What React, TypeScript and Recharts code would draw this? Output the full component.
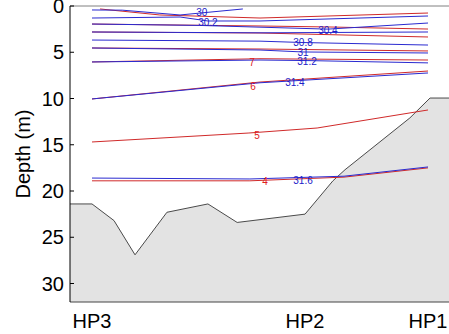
import React from 'react';
import { ComposedChart, XAxis, YAxis, Line, Area, Scatter, ReferenceLine } from 'recharts';

type Pt = { x: number; d: number };
type Lbl = { x: number; d: number; text: string };

// Stations along the transect (distance in km from HP3)
const stationNames = ['HP3', 'HP2', 'HP1'];
const stationKm = [0, 6.34, 10];
const depthTicks = [0, 5, 10, 15, 20, 25, 30];

// Bottom profile (depth in m)
const seabed: Pt[] = [
  { x: -0.655, d: 21.4 },
  { x: 0, d: 21.4 },
  { x: 0.655, d: 23.2 },
  { x: 1.28, d: 26.9 },
  { x: 2.23, d: 22.3 },
  { x: 3.45, d: 21.4 },
  { x: 4.32, d: 23.4 },
  { x: 6.34, d: 22.5 },
  { x: 7.17, d: 18.9 },
  { x: 7.53, d: 17.7 },
  { x: 9.46, d: 12.1 },
  { x: 10.06, d: 9.95 },
  { x: 10.72, d: 9.95 },
];

// Temperature isolines (°C)
const temp11: Pt[] = [{ x: 0.24, d: 0.32 }, { x: 2.02, d: 0.97 }, { x: 5, d: 1.3 }, { x: 10, d: 0.76 }];
const temp10: Pt[] = [{ x: 0, d: 1.95 }, { x: 5, d: 2.16 }, { x: 7.08, d: 2.27 }, { x: 10, d: 2.49 }];
const temp9: Pt[] = [{ x: 0, d: 2.81 }, { x: 5, d: 2.92 }, { x: 10, d: 3.35 }];
const temp8: Pt[] = [{ x: 0, d: 4.54 }, { x: 5, d: 4.65 }, { x: 10, d: 4.86 }];
const temp7: Pt[] = [{ x: 0, d: 6.05 }, { x: 5, d: 5.7 }, { x: 10, d: 5.84 }];
const temp6: Pt[] = [{ x: 0, d: 10.05 }, { x: 5, d: 8.22 }, { x: 10, d: 7.03 }];
const temp5: Pt[] = [{ x: 0, d: 14.7 }, { x: 4.67, d: 13.73 }, { x: 6.7, d: 13.19 }, { x: 10, d: 11.24 }];
const temp4: Pt[] = [{ x: 0, d: 18.9 }, { x: 4.7, d: 18.9 }, { x: 7.5, d: 18.5 }, { x: 10, d: 17.5 }];

// Salinity isolines (psu)
const salt300: Pt[] = [{ x: 0, d: 0.43 }, { x: 0.9, d: 0.45 }, { x: 2.62, d: 0.97 }, { x: 4.49, d: 0.32 }];
const salt302: Pt[] = [{ x: 0, d: 1.3 }, { x: 2.62, d: 1.19 }, { x: 3.45, d: 1.62 }, { x: 5, d: 1.62 }, { x: 10, d: 1.08 }];
const salt304: Pt[] = [{ x: 0, d: 1.95 }, { x: 3.2, d: 2.1 }, { x: 7.02, d: 2.5 }, { x: 10, d: 1.84 }];
const salt306: Pt[] = [{ x: 0, d: 2.81 }, { x: 5, d: 2.9 }, { x: 10, d: 2.81 }];
const salt308: Pt[] = [{ x: 0, d: 3.68 }, { x: 5, d: 3.8 }, { x: 6.28, d: 3.95 }, { x: 10, d: 4.22 }];
const salt310: Pt[] = [{ x: 0, d: 4.54 }, { x: 5, d: 4.76 }, { x: 6.28, d: 4.97 }, { x: 10, d: 5.08 }];
const salt312: Pt[] = [{ x: 0, d: 6.05 }, { x: 5, d: 5.84 }, { x: 6.4, d: 5.9 }, { x: 10, d: 6.15 }];
const salt314: Pt[] = [{ x: 0, d: 10.05 }, { x: 5, d: 8.3 }, { x: 10, d: 7.24 }];
const salt316: Pt[] = [{ x: 0, d: 18.6 }, { x: 4.7, d: 18.7 }, { x: 7.5, d: 18.4 }, { x: 10, d: 17.4 }];

const tempLabels: Lbl[] = [
  { x: 4.76, d: 6.05, text: '7' },
  { x: 4.79, d: 8.65, text: '6' },
  { x: 4.91, d: 14.0, text: '5' },
  { x: 5.15, d: 19.0, text: '4' },
];
const saltLabels: Lbl[] = [
  { x: 3.27, d: 0.68, text: '30' },
  { x: 3.45, d: 1.8, text: '30.2' },
  { x: 7.02, d: 2.6, text: '30.4' },
  { x: 6.28, d: 3.92, text: '30.8' },
  { x: 6.28, d: 4.97, text: '31' },
  { x: 6.4, d: 6.02, text: '31.2' },
  { x: 6.04, d: 8.3, text: '31.4' },
  { x: 6.28, d: 18.9, text: '31.6' },
];

const tempLines = [temp11, temp10, temp9, temp8, temp7, temp6, temp5, temp4];
const saltLines = [salt300, salt302, salt304, salt306, salt308, salt310, salt312, salt314, salt316];

const RED = '#d02a2a';
const BLUE = '#2a2ad0';
const FONT = '"Liberation Sans", Arial, Helvetica, sans-serif';

const PLOT_LEFT = 70;
const PLOT_RIGHT = 452;
const PLOT_TOP = 6;

const LeftTick = (props: any) => {
  const { y, payload } = props;
  return (
    <g>
      <line x1={PLOT_LEFT} x2={PLOT_LEFT + 4} y1={y} y2={y} stroke="#000" />
      <text x={PLOT_LEFT - 6} y={y} dy="0.36em" textAnchor="end" fontSize={20} fontFamily={FONT} fill="#000">
        {payload.value}
      </text>
    </g>
  );
};

const RightTick = (props: any) => {
  const { y } = props;
  return <line x1={PLOT_RIGHT - 5} x2={PLOT_RIGHT} y1={y} y2={y} stroke="#000" />;
};

const TopTick = (props: any) => {
  const { x } = props;
  return <line x1={x} x2={x} y1={PLOT_TOP} y2={PLOT_TOP + 4} stroke="#000" />;
};

const BottomTick = (props: any) => {
  const { x, y, payload } = props;
  const i = stationKm.indexOf(payload.value);
  return (
    <text x={x} y={y + 26} textAnchor="middle" fontSize={20} fontFamily={FONT} fill="#000">
      {stationNames[i]}
    </text>
  );
};

const makeLabelShape = (color: string) => (props: any) => {
  const { cx, cy, payload } = props;
  return (
    <text x={cx} y={cy} dy="0.36em" textAnchor="middle" fontSize={10} fontFamily={FONT} fill={color}>
      {payload.text}
    </text>
  );
};

export default function App() {
  return (
    <div style={{ position: 'fixed', left: 0, top: 0, width: 449, height: 334, overflow: 'hidden', background: '#fff' }}>
      <ComposedChart width={460} height={334} margin={{ top: 6, right: 8, bottom: 0, left: 0 }}>
        <XAxis
          dataKey="x"
          type="number"
          domain={[-0.655, 10.714]}
          ticks={stationKm}
          interval={0}
          allowDataOverflow
          height={32}
          tickSize={0}
          tickMargin={0}
          tick={<BottomTick />}
          axisLine={{ stroke: '#444' }}
          tickLine={false}
        />
        <XAxis
          xAxisId="top"
          dataKey="x"
          type="number"
          orientation="top"
          domain={[-0.655, 10.714]}
          ticks={stationKm}
          interval={0}
          allowDataOverflow
          height={0}
          tickSize={0}
          tickMargin={0}
          tick={<TopTick />}
          axisLine={{ stroke: '#777' }}
          tickLine={false}
        />
        <YAxis
          dataKey="d"
          type="number"
          domain={[0, 32]}
          reversed
          ticks={depthTicks}
          interval={0}
          allowDataOverflow
          width={70}
          tickSize={0}
          tickMargin={0}
          tick={<LeftTick />}
          axisLine={{ stroke: '#000' }}
          tickLine={false}
          label={{
            content: () => (
              <text
                x={23}
                y={154}
                transform="rotate(-90 23 154)"
                textAnchor="middle"
                dominantBaseline="central"
                fontSize={20}
                fontFamily={FONT}
                fill="#000"
              >
                Depth (m)
              </text>
            ),
          }}
        />
        <YAxis
          yAxisId="right"
          orientation="right"
          type="number"
          domain={[0, 32]}
          reversed
          ticks={depthTicks}
          interval={0}
          allowDataOverflow
          width={0}
          tickSize={0}
          tickMargin={0}
          tick={<RightTick />}
          axisLine={{ stroke: '#000' }}
          tickLine={false}
        />
        <ReferenceLine y={0} stroke="#808080" strokeWidth={1} />
        <Area
          data={seabed}
          dataKey="d"
          type="linear"
          baseValue={32}
          fill="#e3e3e3"
          fillOpacity={1}
          stroke="#4a4a4a"
          strokeWidth={1}
          isAnimationActive={false}
          dot={false}
          activeDot={false}
        />
        {tempLines.map((pts, i) => (
          <Line
            key={'t' + i}
            data={pts}
            dataKey="d"
            type="linear"
            stroke={RED}
            strokeWidth={1}
            dot={false}
            activeDot={false}
            isAnimationActive={false}
          />
        ))}
        {saltLines.map((pts, i) => (
          <Line
            key={'s' + i}
            data={pts}
            dataKey="d"
            type="linear"
            stroke={BLUE}
            strokeWidth={1}
            dot={false}
            activeDot={false}
            isAnimationActive={false}
          />
        ))}
        <Scatter data={tempLabels} dataKey="d" shape={makeLabelShape('#e02020')} isAnimationActive={false} />
        <Scatter data={saltLabels} dataKey="d" shape={makeLabelShape('#2020c8')} isAnimationActive={false} />
      </ComposedChart>
    </div>
  );
}
